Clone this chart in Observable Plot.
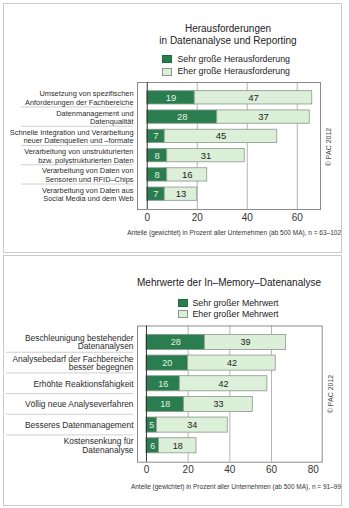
<!DOCTYPE html>
<html>
<head>
<meta charset="utf-8">
<script src="https://cdn.jsdelivr.net/npm/d3@7"></script>
<script src="https://cdn.jsdelivr.net/npm/@observablehq/plot@0.6"></script>
<style>
  html, body { margin: 0; padding: 0; background: #fff; }
  body { font-family: "Liberation Sans", Arial, Helvetica, sans-serif; color: #222; }
  #root { position: relative; width: 349px; height: 508px; overflow: hidden; background: #fff; }
  .panel { position: absolute; left: 3px; width: 339px; border: 1px solid #cacaca; box-sizing: border-box; }
  .abs { position: absolute; white-space: nowrap; }
  .title { font-size: 10px; line-height: 12px; text-align: center; color: #222; }
  .legend-row { font-size: 8.8px; line-height: 12px; color: #222; }
  .swatch { position: absolute; width: 10px; height: 8px; box-sizing: border-box; }
  .caption { font-size: 6.5px; line-height: 9px; text-align: right; color: #333; }
  .copy { font-size: 7px; line-height: 9px; color: #444; transform: translate(-50%, -50%) rotate(-90deg); }
  .chart { position: absolute; left: 0; }
</style>
</head>
<body>
<div id="root"></div>
<script>
// --- Herausforderungen in Datenanalyse und Reporting ---
const challengeCategories = [
  "Umsetzung von spezifischen\nAnforderungen der Fachbereiche",
  "Datenmanagement und\nDatenqualität",
  "Schnelle Integration und Verarbeitung\nneuer Datenquellen und –formate",
  "Verarbeitung von unstrukturierten\nbzw. polystrukturierten Daten",
  "Verarbeitung von Daten von\nSensoren und RFID–Chips",
  "Verarbeitung von Daten aus\nSocial Media und dem Web"
];
const challengeSeries = ["Sehr große Herausforderung", "Eher große Herausforderung"];
const challengeVery = [19, 28, 7, 8, 8, 7];
const challengeRather = [47, 37, 45, 31, 16, 13];
const challengeTicks = [0, 20, 40, 60];

// --- Mehrwerte der In-Memory-Datenanalyse ---
const benefitCategories = [
  "Beschleunigung bestehender\nDatenanalysen",
  "Analysebedarf der Fachbereiche\nbesser begegnen",
  "Erhöhte Reaktionsfähigkeit",
  "Völlig neue Analyseverfahren",
  "Besseres Datenmanagement",
  "Kostensenkung für\nDatenanalyse"
];
const benefitSeries = ["Sehr großer Mehrwert", "Eher großer Mehrwert"];
const benefitVery = [28, 20, 16, 18, 5, 6];
const benefitRather = [39, 42, 42, 33, 34, 18];
const benefitTicks = [0, 20, 40, 60, 80];

const DARK = "#2a7d4e";
const LIGHT = "#dcefd8";

// Stacked segments: the first series starts at zero, the second continues from it.
function buildRows(categories, series, first, second) {
  const rows = [];
  categories.forEach((c, i) => {
    rows.push({category: c, series: series[0], value: first[i], x1: 0, x2: first[i]});
    rows.push({category: c, series: series[1], value: second[i], x1: first[i], x2: first[i] + second[i]});
  });
  return rows;
}

// Dotted separator lines between the category labels in the left margin.
function separators(categories, startOffset, endOffset) {
  return (index, scales, values, dimensions) => {
    const y = scales.y;
    const desc = scales.scales ? scales.scales.y : null;
    const bw = typeof y.bandwidth === "function" ? y.bandwidth() : desc.bandwidth;
    const step = typeof y.step === "function" ? y.step() : desc.step;
    const g = d3.create("svg:g")
      .attr("stroke", "#7a7a7a")
      .attr("stroke-width", 0.8)
      .attr("stroke-dasharray", "0.9 1.1");
    const xa = dimensions.marginLeft - startOffset;
    const xb = dimensions.marginLeft - endOffset;
    categories.slice(0, -1).forEach(c => {
      const yy = y(c) + bw / 2 + step / 2;
      g.append("line").attr("x1", xa).attr("x2", xb).attr("y1", yy).attr("y2", yy);
    });
    return g.node();
  };
}

function makeChart(opts) {
  const rows = buildRows(opts.categories, opts.series, opts.first, opts.second);
  return Plot.plot({
    width: 349,
    height: opts.height,
    marginTop: opts.marginTop,
    marginBottom: opts.marginBottom,
    marginLeft: 137,
    marginRight: opts.marginRight,
    style: {fontFamily: '"Liberation Sans", Arial, sans-serif', fontSize: "10px", color: "#333", background: "transparent"},
    x: {domain: opts.xDomain, ticks: opts.ticks, tickSize: 0, tickPadding: 4, label: null},
    y: {domain: opts.categories, axis: null, paddingInner: opts.paddingInner, paddingOuter: opts.paddingOuter, round: false},
    color: {domain: opts.series, range: [DARK, LIGHT]},
    marks: [
      Plot.ruleX(opts.grid, {stroke: "#b4b4b4", strokeWidth: 1}),
      Plot.barX(rows, {x1: "x1", x2: "x2", y: "category", fill: "series", stroke: "#8a978a", strokeWidth: 0.8}),
      Plot.frame({stroke: "#8c8c8c", strokeWidth: 1}),
      Plot.ruleX([0], {stroke: "#333", strokeWidth: 1}),
      Plot.text(rows.filter(d => d.series === opts.series[0]), {
        x: d => (d.x1 + d.x2) / 2, y: "category", text: d => String(d.value),
        fill: "#e4f2e4", fontSize: opts.valueSize
      }),
      Plot.text(rows.filter(d => d.series === opts.series[1]), {
        x: d => (d.x1 + d.x2) / 2, y: "category", text: d => String(d.value),
        fill: "#222", fontSize: opts.valueSize
      }),
      Plot.text(opts.categories, {
        y: d => d, text: d => d, frameAnchor: "left", textAnchor: "end", dx: -4,
        fontSize: opts.labelSize, lineHeight: opts.lineHeight, fill: "#2a2a2a"
      }),
      separators(opts.categories, opts.sepStart, 4)
    ]
  });
}

const root = document.getElementById("root");

function addEl(cls, style, html) {
  const el = document.createElement("div");
  el.className = cls;
  Object.assign(el.style, style);
  if (html !== undefined) el.textContent = html;
  root.appendChild(el);
  return el;
}

// Panels
addEl("panel", {top: "3px", height: "250px"});
addEl("panel", {top: "255px", height: "251px"});

// ---- Top chart ----
const t1 = addEl("abs title", {left: "128px", width: "200px", top: "22.5px"});
t1.innerHTML = "Herausforderungen<br>in Datenanalyse und Reporting";

addEl("swatch", {left: "162px", top: "55px", background: DARK, border: "1px solid #1f6a40"});
addEl("abs legend-row", {left: "177.5px", top: "53px"}, challengeSeries[0]);
addEl("swatch", {left: "162px", top: "67.5px", background: LIGHT, border: "1px solid #8a978a"});
addEl("abs legend-row", {left: "177.5px", top: "65px"}, challengeSeries[1]);

const chart1 = makeChart({
  categories: challengeCategories, series: challengeSeries,
  first: challengeVery, second: challengeRather,
  ticks: challengeTicks, grid: [20, 40, 60],
  xDomain: [-3.9, 69.3],
  height: 151, marginTop: 7, marginBottom: 17, marginRight: 29,
  paddingInner: 0.31, paddingOuter: 0.45,
  labelSize: 7.4, lineHeight: 1.15, valueSize: 9.5, sepStart: 115.5
});
chart1.classList.add("chart");
chart1.style.top = "75px";
root.appendChild(chart1);

addEl("abs caption", {right: "8px", top: "227.5px"},
  "Anteile (gewichtet) in Prozent aller Unternehmen (ab 500 MA), n = 63–102");
addEl("abs copy", {left: "327.5px", top: "147px"}, "© PAC 2012");

// ---- Bottom chart ----
addEl("abs title", {left: "129px", width: "200px", top: "277.3px"}, "Mehrwerte der In–Memory–Datenanalyse");

addEl("swatch", {left: "177.5px", top: "298.7px", background: DARK, border: "1px solid #1f6a40"});
addEl("abs legend-row", {left: "192.5px", top: "296.7px"}, benefitSeries[0]);
addEl("swatch", {left: "177.5px", top: "310.3px", background: LIGHT, border: "1px solid #8a978a"});
addEl("abs legend-row", {left: "192.5px", top: "308.3px"}, benefitSeries[1]);

const chart2 = makeChart({
  categories: benefitCategories, series: benefitSeries,
  first: benefitVery, second: benefitRather,
  ticks: benefitTicks, grid: [20, 40, 60],
  xDomain: [-4.3, 84.3],
  height: 162, marginTop: 7.5, marginBottom: 18.3, marginRight: 27.3,
  paddingInner: 0.27, paddingOuter: 0.43,
  labelSize: 8.4, lineHeight: 1.02, valueSize: 9, sepStart: 130.5
});
chart2.classList.add("chart");
chart2.style.top = "318px";
root.appendChild(chart2);

addEl("abs caption", {right: "8px", top: "482.2px"},
  "Anteile (gewichtet) in Prozent aller Unternehmen (ab 500 MA), n = 91–99");
addEl("abs copy", {left: "330px", top: "393.5px"}, "© PAC 2012");
</script>
</body>
</html>
